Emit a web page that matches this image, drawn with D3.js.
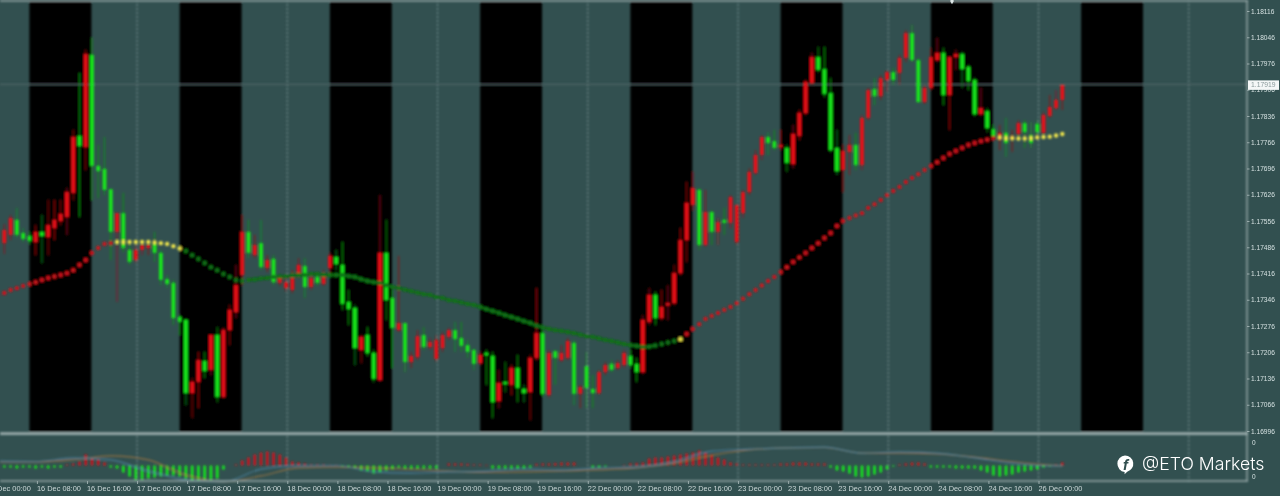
<!DOCTYPE html>
<html><head><meta charset="utf-8">
<script src="https://cdn.jsdelivr.net/npm/d3@7"></script>
<style>html,body{margin:0;padding:0;background:#325050;overflow:hidden}svg{display:block}</style>
</head><body><svg id="c" width="1280" height="496"></svg>
<script>
// Prices are in points: 17532 means 1.17532
const direction = ("G"+"RRGGGRGRRR"+"RRGRGGGGRG"+"GRRRGGGGGG"+"RRGRGRRRRG"+"RGRGRRRRGR"+"GRRGGGGRGG"+"RGGRGRRGRR"+"RRGGGGRGGR"+"GRGGRRGRGR"+"RGRGGRRGRR"+"GGRRGRRRRR"+"RGRGRGRRRR"+"RRGGRGRRRR"+"GGGGRRGRRG"+"RRGRRGGRRR"+"GRRGGGRGGR"+"GRRGGGRRRR").split("");
const bodyTop = [17537,
17532,17564,17559,17524,17516,17527,17527,17545,17559,17575,
17633,17780,17783,18001,17999,17703,17695,17641,17577,17577,
17479,17479,17492,17492,17497,17471,17401,17391,17300,17292,
17127,17185,17183,17252,17252,17265,17319,17385,17527,17527,
17492,17497,17452,17455,17404,17393,17404,17439,17436,17404,
17407,17407,17463,17460,17439,17340,17324,17247,17252,17204,
17471,17471,17351,17284,17284,17196,17249,17252,17233,17239,
17252,17265,17265,17244,17225,17212,17199,17204,17196,17124,
17127,17164,17164,17108,17191,17257,17257,17204,17209,17204,
17236,17231,17113,17169,17108,17153,17172,17175,17177,17204,
17196,17175,17292,17359,17359,17327,17337,17417,17505,17604,
17644,17639,17580,17580,17553,17559,17620,17599,17633,17687,
17732,17780,17780,17769,17759,17751,17788,17844,17927,17993,
17993,17961,17897,17751,17743,17759,17759,17831,17905,17908,
17937,17953,17953,17991,18057,18057,17985,17911,17993,18004,
18004,17993,18001,18001,17967,17932,17857,17849,17801,17791,
17791,17783,17817,17817,17785,17815,17839,17860,17879,17919];
const bodyBottom = [17497,
17497,17519,17519,17508,17503,17500,17516,17513,17537,17556,
17567,17631,17756,17753,17703,17689,17639,17527,17527,17484,
17447,17452,17479,17484,17471,17399,17388,17297,17287,17097,
17097,17127,17156,17159,17087,17087,17265,17313,17412,17471,
17465,17433,17431,17393,17391,17377,17372,17417,17380,17380,
17391,17388,17431,17441,17335,17321,17217,17212,17204,17135,
17132,17345,17271,17265,17180,17180,17193,17220,17220,17188,
17217,17247,17241,17223,17207,17175,17177,17199,17073,17076,
17121,17119,17111,17097,17100,17191,17095,17092,17191,17185,
17191,17095,17095,17111,17097,17097,17153,17159,17164,17172,
17172,17153,17153,17287,17297,17297,17335,17337,17417,17505,
17599,17492,17492,17527,17527,17551,17551,17500,17577,17633,
17684,17732,17764,17751,17756,17711,17708,17783,17844,17924,
17959,17895,17745,17689,17692,17740,17705,17705,17831,17889,
17889,17932,17932,17951,17991,17985,17873,17873,17911,17985,
17892,17892,17993,17961,17929,17841,17841,17804,17783,17772,
17764,17772,17788,17793,17764,17793,17791,17836,17857,17879];
const wickHigh = [17553,
17548,17572,17591,17537,17527,17545,17572,17612,17612,17612,
17644,17799,17951,18012,18044,17759,17780,17641,17577,17631,
17505,17492,17500,17505,17527,17479,17412,17399,17305,17297,
17137,17207,17207,17252,17273,17271,17332,17439,17572,17559,
17519,17559,17465,17465,17412,17404,17425,17457,17457,17412,
17412,17425,17471,17479,17500,17372,17332,17252,17273,17212,
17625,17559,17372,17463,17284,17207,17265,17273,17244,17252,
17260,17271,17287,17287,17239,17217,17207,17212,17207,17159,
17180,17172,17199,17119,17199,17377,17265,17212,17212,17225,
17244,17239,17119,17207,17145,17159,17180,17185,17185,17212,
17212,17191,17305,17377,17367,17372,17385,17439,17537,17660,
17687,17644,17639,17585,17564,17591,17625,17599,17639,17697,
17745,17785,17793,17799,17799,17759,17812,17852,17932,18004,
18020,18020,17937,17799,17759,17785,17791,17839,17911,17937,
17945,17959,17964,17999,18065,18079,17991,17919,18017,18044,
18017,17993,18012,18007,17972,17937,17911,17857,17812,17812,
17831,17799,17825,17825,17820,17825,17847,17892,17905,17919];
const wickLow = [17479,
17468,17505,17511,17500,17495,17465,17444,17465,17505,17545,
17519,17612,17567,17692,17612,17617,17625,17452,17340,17473,
17439,17444,17465,17465,17447,17385,17377,17279,17252,17065,
17031,17057,17137,17145,17073,17084,17225,17297,17385,17457,
17457,17425,17420,17385,17383,17367,17364,17404,17351,17372,
17383,17383,17412,17425,17319,17279,17172,17177,17196,17127,
17127,17292,17164,17260,17153,17164,17185,17212,17212,17180,
17207,17239,17207,17207,17191,17159,17172,17119,17031,17057,
17100,17092,17073,17073,17025,17185,17089,17084,17119,17180,
17185,17065,17057,17057,17057,17092,17145,17153,17159,17164,
17164,17127,17148,17279,17279,17292,17292,17332,17412,17447,
17585,17479,17487,17492,17492,17519,17537,17492,17564,17625,
17679,17719,17732,17745,17745,17687,17697,17772,17839,17919,
17953,17887,17740,17679,17633,17679,17692,17692,17825,17865,
17879,17900,17919,17919,17980,17980,17871,17868,17905,17980,
17865,17799,17959,17911,17905,17836,17836,17793,17777,17745,
17727,17740,17772,17751,17751,17785,17785,17831,17852,17852];
const movingAverage = [17359,
17364,17372,17377,17383,17388,17393,17399,17404,17408,17412,
17417,17425,17439,17452,17471,17484,17495,17497,17500,17500,
17500,17500,17500,17500,17499,17497,17495,17489,17483,17476,
17465,17455,17444,17433,17425,17415,17407,17399,17396,17399,
17400,17403,17404,17407,17408,17409,17411,17412,17412,17415,
17415,17412,17412,17412,17412,17409,17407,17401,17396,17393,
17391,17385,17380,17377,17373,17369,17365,17361,17359,17353,
17351,17345,17343,17339,17335,17332,17327,17321,17316,17311,
17305,17300,17295,17289,17284,17277,17272,17268,17265,17263,
17260,17257,17253,17249,17247,17243,17239,17236,17232,17228,
17225,17223,17220,17221,17224,17228,17232,17236,17241,17255,
17268,17281,17295,17303,17311,17319,17327,17337,17349,17361,
17372,17384,17396,17407,17420,17433,17447,17459,17471,17484,
17497,17511,17524,17543,17556,17564,17571,17577,17591,17601,
17612,17625,17636,17647,17660,17671,17681,17692,17703,17713,
17724,17735,17743,17751,17759,17764,17769,17773,17777,17779,
17777,17777,17776,17776,17777,17779,17780,17781,17784,17788];
const maTrend = ["up","flat","down","flat","up","flat"];
const maTrendEnd = [18,29,108,109,159,170];

const histogram = [-10,-10,-10,-15,-10,-10,-15,-10,-15,-10,-10,
5,10,20,55,35,30,15,
-10,-15,-35,-55,-70,-70,-65,-60,-55,-50,-50,-55,-65,-75,-75,-70,-70,-65,-20,
0,5,25,40,55,65,70,65,55,40,20,15,10,5,5,5,3,3,
-5,-10,-15,-25,-30,-40,-35,-25,-20,-10,-15,-15,-15,-15,-15,-15,0,
10,10,10,8,5,5,3,-15,-15,-15,-15,-15,-15,-10,
8,10,10,12,15,15,15,0,0,-10,-10,-5,0,0,3,
10,12,15,35,40,40,45,50,55,60,65,75,65,55,40,30,15,10,5,5,5,5,5,
5,10,10,15,15,15,10,10,10,
-10,-25,-30,-40,-55,-60,-55,-45,-35,-20,-5,
5,10,15,15,10,
-10,-10,-10,-10,-15,-15,-15,-15,-25,-35,-50,-55,-50,-45,-35,-30,-25,-20,-10,-5,5,15];
const lineIndex = [0,6,12,18,24,30,36,42,48,54,60,66,72,78,84,90,96,102,108,114,120,126,132,138,144,150,156,162,168,170];
const macdLine = [22,20,38,28,-28,-72,-82,-18,-2,0,-32,-38,-32,-28,-18,-22,-12,-8,18,72,82,88,92,62,68,62,38,12,-2,-2];
const signalLine = [18,18,28,48,28,-48,-82,-52,-12,-8,-12,-20,-28,-35,-32,-28,-22,-12,12,52,78,88,90,62,62,58,42,20,2,-2];

const sessionStart = [5,29,53,77,101,125,149,173];
const sessionEnd = [14.9,38.9,62.9,86.9,110.9,134.9,158.9,182.9];
const priceTicks = [16996,17066,17136,17206,17276,17346,17416,17486,17556,17626,17696,17766,17836,17906,17976,18046,18116];
const currentPrice = 17919;
const timeTickIndex = [-1.8,6.2,14.2,22.2,30.2,38.2,46.2,54.2,62.2,70.2,78.2,86.2,94.2,102.2,110.2,118.2,126.2,134.2,142.2,150.2,158.2,166.2];
const timeLabels = ["16 Dec 00:00","16 Dec 08:00","16 Dec 16:00","17 Dec 00:00","17 Dec 08:00","17 Dec 16:00","18 Dec 00:00","18 Dec 08:00","18 Dec 16:00","19 Dec 00:00","19 Dec 08:00","19 Dec 16:00","22 Dec 00:00","22 Dec 08:00","22 Dec 16:00","23 Dec 00:00","23 Dec 08:00","23 Dec 16:00","24 Dec 00:00","24 Dec 08:00","24 Dec 16:00","26 Dec 00:00"];
const dayGridIndex = [22.2,46.2,70.2,94.2,118.2,142.2,166.2,190.2];

const svg = d3.select("#c");
const W=1280,H=496;
const BG="#325050", RED="#ea1016", GREEN="#14e81a";
const defs = svg.append("defs");
[["b1",0.9],["b2",0.75],["b3",0.5]].forEach(([id,s])=>{
  defs.append("filter").attr("id",id).attr("filterUnits","userSpaceOnUse").attr("x",-10).attr("y",-10).attr("width",1300).attr("height",516)
   .append("feGaussianBlur").attr("stdDeviation",s);
});
defs.append("clipPath").attr("id","plot").append("rect").attr("width",1247).attr("height",496);

const x = d3.scaleLinear().domain([0,170]).range([-1.9,1062.3]);
const y = d3.scaleLinear().domain([16996,18116]).range([431,11]);
const m = d3.scaleLinear().domain([150,-75]).range([435.5,480.5]);

svg.append("rect").attr("width",W).attr("height",H).attr("fill",BG);
const root = svg.append("g").attr("filter","url(#b1)");
const plot = root.append("g").attr("clip-path","url(#plot)");

// session bands
plot.append("g").selectAll("rect").data(sessionStart).join("rect")
  .attr("x",d=>x(d)).attr("y",0).attr("height",432)
  .attr("width",(d,i)=>x(sessionEnd[i])-x(d)).attr("fill","#000");

// grid
plot.append("g").selectAll("line").data(dayGridIndex).join("line")
  .attr("x1",d=>x(d)).attr("x2",d=>x(d)).attr("y1",0).attr("y2",484)
  .attr("stroke","#82999a").attr("stroke-width",1).attr("stroke-dasharray","2 2");
plot.append("line").attr("x1",0).attr("x2",1247).attr("y1",y(currentPrice)-0.5).attr("y2",y(currentPrice)-0.5)
  .attr("stroke","#56696a").attr("stroke-width",1);

// moving average
const trendOf = j => maTrend[maTrendEnd.findIndex(e=>j<=e)];
const maColor = {up:"#cc141c",flat:"#f0e64c",down:"#0c7218"};
const maLine = d3.line().x(d=>x(d)).y(d=>y(movingAverage[d]));
plot.append("path").attr("d",maLine(d3.range(40,106))).attr("fill","none").attr("stroke","#0a6815").attr("stroke-width",3);

// candles
const idx = d3.range(direction.length);
const candles = plot.append("g");
candles.selectAll("line").data(idx).join("line")
  .attr("x1",d=>x(d)).attr("x2",d=>x(d)).attr("y1",d=>y(wickHigh[d])).attr("y2",d=>y(wickLow[d]))
  .attr("stroke",d=>direction[d]==="R"?"#a81218":"#12a018").attr("stroke-width",1).attr("stroke-opacity",.8);
candles.selectAll("rect").data(idx).join("rect")
  .attr("x",d=>x(d)-1.9).attr("width",3.8)
  .attr("y",d=>y(bodyTop[d])).attr("height",d=>Math.max(2.4,y(bodyBottom[d])-y(bodyTop[d])))
  .attr("fill",d=>direction[d]==="R"?RED:GREEN);

plot.append("g").selectAll("circle").data(idx).join("circle")
  .attr("cx",d=>x(d)).attr("cy",d=>y(movingAverage[d])).attr("r",2.2)
  .attr("fill",d=>maColor[trendOf(d)]);

// sub-window
plot.append("g").selectAll("rect").data(idx).join("rect")
  .attr("x",d=>x(d)-1.3).attr("width",2.6)
  .attr("y",d=>m(Math.max(0,histogram[d])))
  .attr("height",d=>Math.abs(m(histogram[d])-m(0)))
  .attr("fill",d=>histogram[d]>=0?"#cc141c":"#14ea1a");
const lineGen = series => d3.line().curve(d3.curveMonotoneX).x((d,i)=>x(d)).y((d,i)=>m(series[i]))(lineIndex);
plot.append("path").attr("d",lineGen(signalLine)).attr("fill","none").attr("stroke","#a5773f").attr("stroke-width",1.1).attr("stroke-opacity",.8);
plot.append("path").attr("d",lineGen(macdLine)).attr("fill","none").attr("stroke","#4d86a6").attr("stroke-width",1.1).attr("stroke-opacity",.8);

// frame
const frame = root.append("g").attr("stroke","#9aabab").attr("fill","none");
frame.append("line").attr("x1",0).attr("x2",1248).attr("y1",0.7).attr("y2",0.7).attr("stroke-width",1.4);
frame.append("line").attr("x1",0).attr("x2",1248).attr("y1",433.6).attr("y2",433.6).attr("stroke-width",2.6);
frame.append("line").attr("x1",0).attr("x2",1248).attr("y1",481).attr("y2",481).attr("stroke-width",1.3);
frame.append("line").attr("x1",1247).attr("x2",1247).attr("y1",0).attr("y2",481).attr("stroke-width",1.4);

// axes
const txt = svg.append("g").attr("filter","url(#b2)");
const ya = txt.append("g").attr("transform","translate(1247,0)")
  .call(d3.axisRight(y).tickValues(priceTicks).tickSize(2.5).tickFormat(d=>(1+d/1e5).toFixed(5)));
ya.select(".domain").remove();
ya.selectAll("text").attr("x",4).attr("font-family","Liberation Sans").attr("font-size",6.6).attr("fill","#d4e0e0");
ya.selectAll("line").attr("stroke","#98aaaa");

const xa = txt.append("g").attr("transform","translate(0,481)")
  .call(d3.axisBottom(x).tickValues(timeTickIndex).tickSize(3).tickFormat((d,i)=>timeLabels[i]));
xa.select(".domain").remove();
xa.selectAll("text").attr("text-anchor","start").attr("y",4.5).attr("dy","0.71em").attr("x",-0.5)
  .attr("font-family","Liberation Sans").attr("font-size",7.4).attr("fill","#ccd8d8");
xa.selectAll("line").attr("stroke","#98aaaa");

// current price tag
txt.append("rect").attr("x",1248).attr("y",y(currentPrice)-4.5).attr("width",31).attr("height",9.5).attr("fill","#f4f7f7");
txt.append("text").attr("x",1251).attr("y",y(currentPrice)+2.5).text((1+currentPrice/1e5).toFixed(5))
  .attr("font-family","Liberation Sans").attr("font-size",6.8).attr("fill","#8a9a9b");

// sub-window axis
txt.selectAll(".z").data([442,476]).join("text").attr("class","z").attr("x",1252).attr("y",d=>d+2.5).text("0")
  .attr("font-family","Liberation Sans").attr("font-size",6.5).attr("fill","#d4e0e0");

// small marker at the top edge
txt.append("path").attr("d",d3.symbol(d3.symbolDiamond,12)()).attr("transform","translate(952,1)").attr("fill","#dfe8e8");

// watermark
const wm = svg.append("g").attr("filter","url(#b3)");
wm.append("path").attr("d","M1125 455.5a8.3 8.3 0 0 1 2.2 16.3l-2.6 2.4v-2.2a8.3 8.3 0 0 1 .4-16.5z").attr("fill","#fff");
wm.append("text").attr("x",1125.6).attr("y",470).attr("text-anchor","middle").text("f")
  .attr("font-family","Roboto").attr("font-weight",700).attr("font-style","italic").attr("font-size",15).attr("fill","#325050");
wm.append("text").attr("x",1142).attr("y",470).text("@ETO Markets")
  .attr("font-family","Inter").attr("font-weight",300).attr("font-size",17.7).attr("fill","#ffffff");
</script></body></html>
